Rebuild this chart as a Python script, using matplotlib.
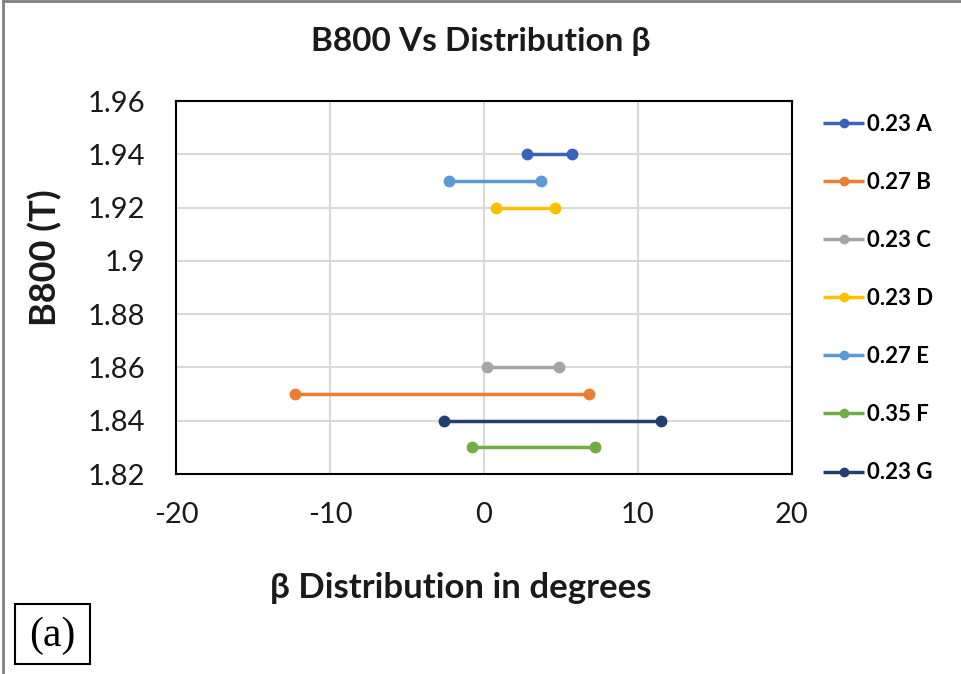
import numpy as np
import matplotlib.pyplot as plt
from matplotlib.patches import Rectangle
from matplotlib.lines import Line2D

# Données
labels = ['0.23 A', '0.27 B', '0.23 C', '0.23 D', '0.27 E', '0.35 F', '0.23 G']
b800 = [1.94, 1.85, 1.86, 1.92, 1.93, 1.83, 1.84]
beta_min = [2.8, -12.3, 0.2, 0.8, -2.3, -0.8, -2.6]
beta_max = [5.7, 6.8, 4.9, 4.6, 3.7, 7.2, 11.5]
colors = ['#3A62B8', '#ED7D31', '#A5A5A5', '#FFC000', '#5B9BD5', '#70AD47', '#223F73']

xticks = [-20, -10, 0, 10, 20]
yticks = [1.82, 1.84, 1.86, 1.88, 1.90, 1.92, 1.94, 1.96]
ytick_labels = ['1.82', '1.84', '1.86', '1.88', '1.9', '1.92', '1.94', '1.96']

plt.rcParams['font.family'] = ['Lato', 'DejaVu Sans']
plt.rcParams['axes.unicode_minus'] = False

fig = plt.figure(figsize=(9.61, 6.74), dpi=100)
ax = fig.add_axes([0.1831, 0.2967, 0.641, 0.5534])

for lab, y, x0, x1, c in zip(labels, b800, beta_min, beta_max, colors):
    ax.plot([x0, x1], [y, y], color=c, lw=2.5, marker='o', ms=7.5, label=lab,
            solid_capstyle='butt', zorder=3)

ax.set_xlim(-20, 20)
ax.set_ylim(1.82, 1.96)
ax.set_xticks(xticks)
ax.set_yticks(yticks)
ax.set_yticklabels(ytick_labels)
ax.tick_params(length=0, labelsize=21, colors='#1a1a1a')
ax.tick_params(axis='x', pad=20)
ax.tick_params(axis='y', pad=22)
ax.grid(True, color='#d9d9d9', lw=1.5, zorder=0)
for s in ax.spines.values():
    s.set_color('black')
    s.set_linewidth(1.5)

# Titre et libellés des axes
fig.text(481 / 961, 1 - 42 / 674, 'B800 Vs Distribution β', fontsize=24,
         fontweight='bold', ha='center', va='center', color='#1a1a1a')
fig.text(45 / 961, 1 - 258 / 674, 'B800 (T)', fontsize=26, fontweight='bold',
         rotation=90, ha='center', va='center', color='#1a1a1a')
fig.text(461 / 961, 1 - 588 / 674, 'β Distribution in degrees', fontsize=25,
         fontweight='bold', ha='center', va='center', color='#1a1a1a')

# Légende à droite
ax.legend(loc='upper left', bbox_to_anchor=(1.036, 0.99), frameon=False,
          prop={'size': 16, 'weight': 'bold'}, handlelength=1.85,
          handletextpad=0.15, labelspacing=1.67, borderaxespad=0,
          markerscale=0.8)

# Cadre de la figure
fig.add_artist(Line2D([0.003, 0.003], [0, 0.999], color='#808080', lw=2))
fig.add_artist(Line2D([0.003, 1], [0.999, 0.999], color='#808080', lw=2))

# Étiquette (a)
fig.add_artist(Rectangle((15 / 961, 1 - 664 / 674), 75 / 961, 60 / 674,
                         fill=False, ec='black', lw=1.5, transform=fig.transFigure))
fig.text(52 / 961, 1 - 636 / 674, '(a)', fontsize=30, family='Liberation Serif',
         ha='center', va='center')

fig.savefig('out.png', dpi=100)
